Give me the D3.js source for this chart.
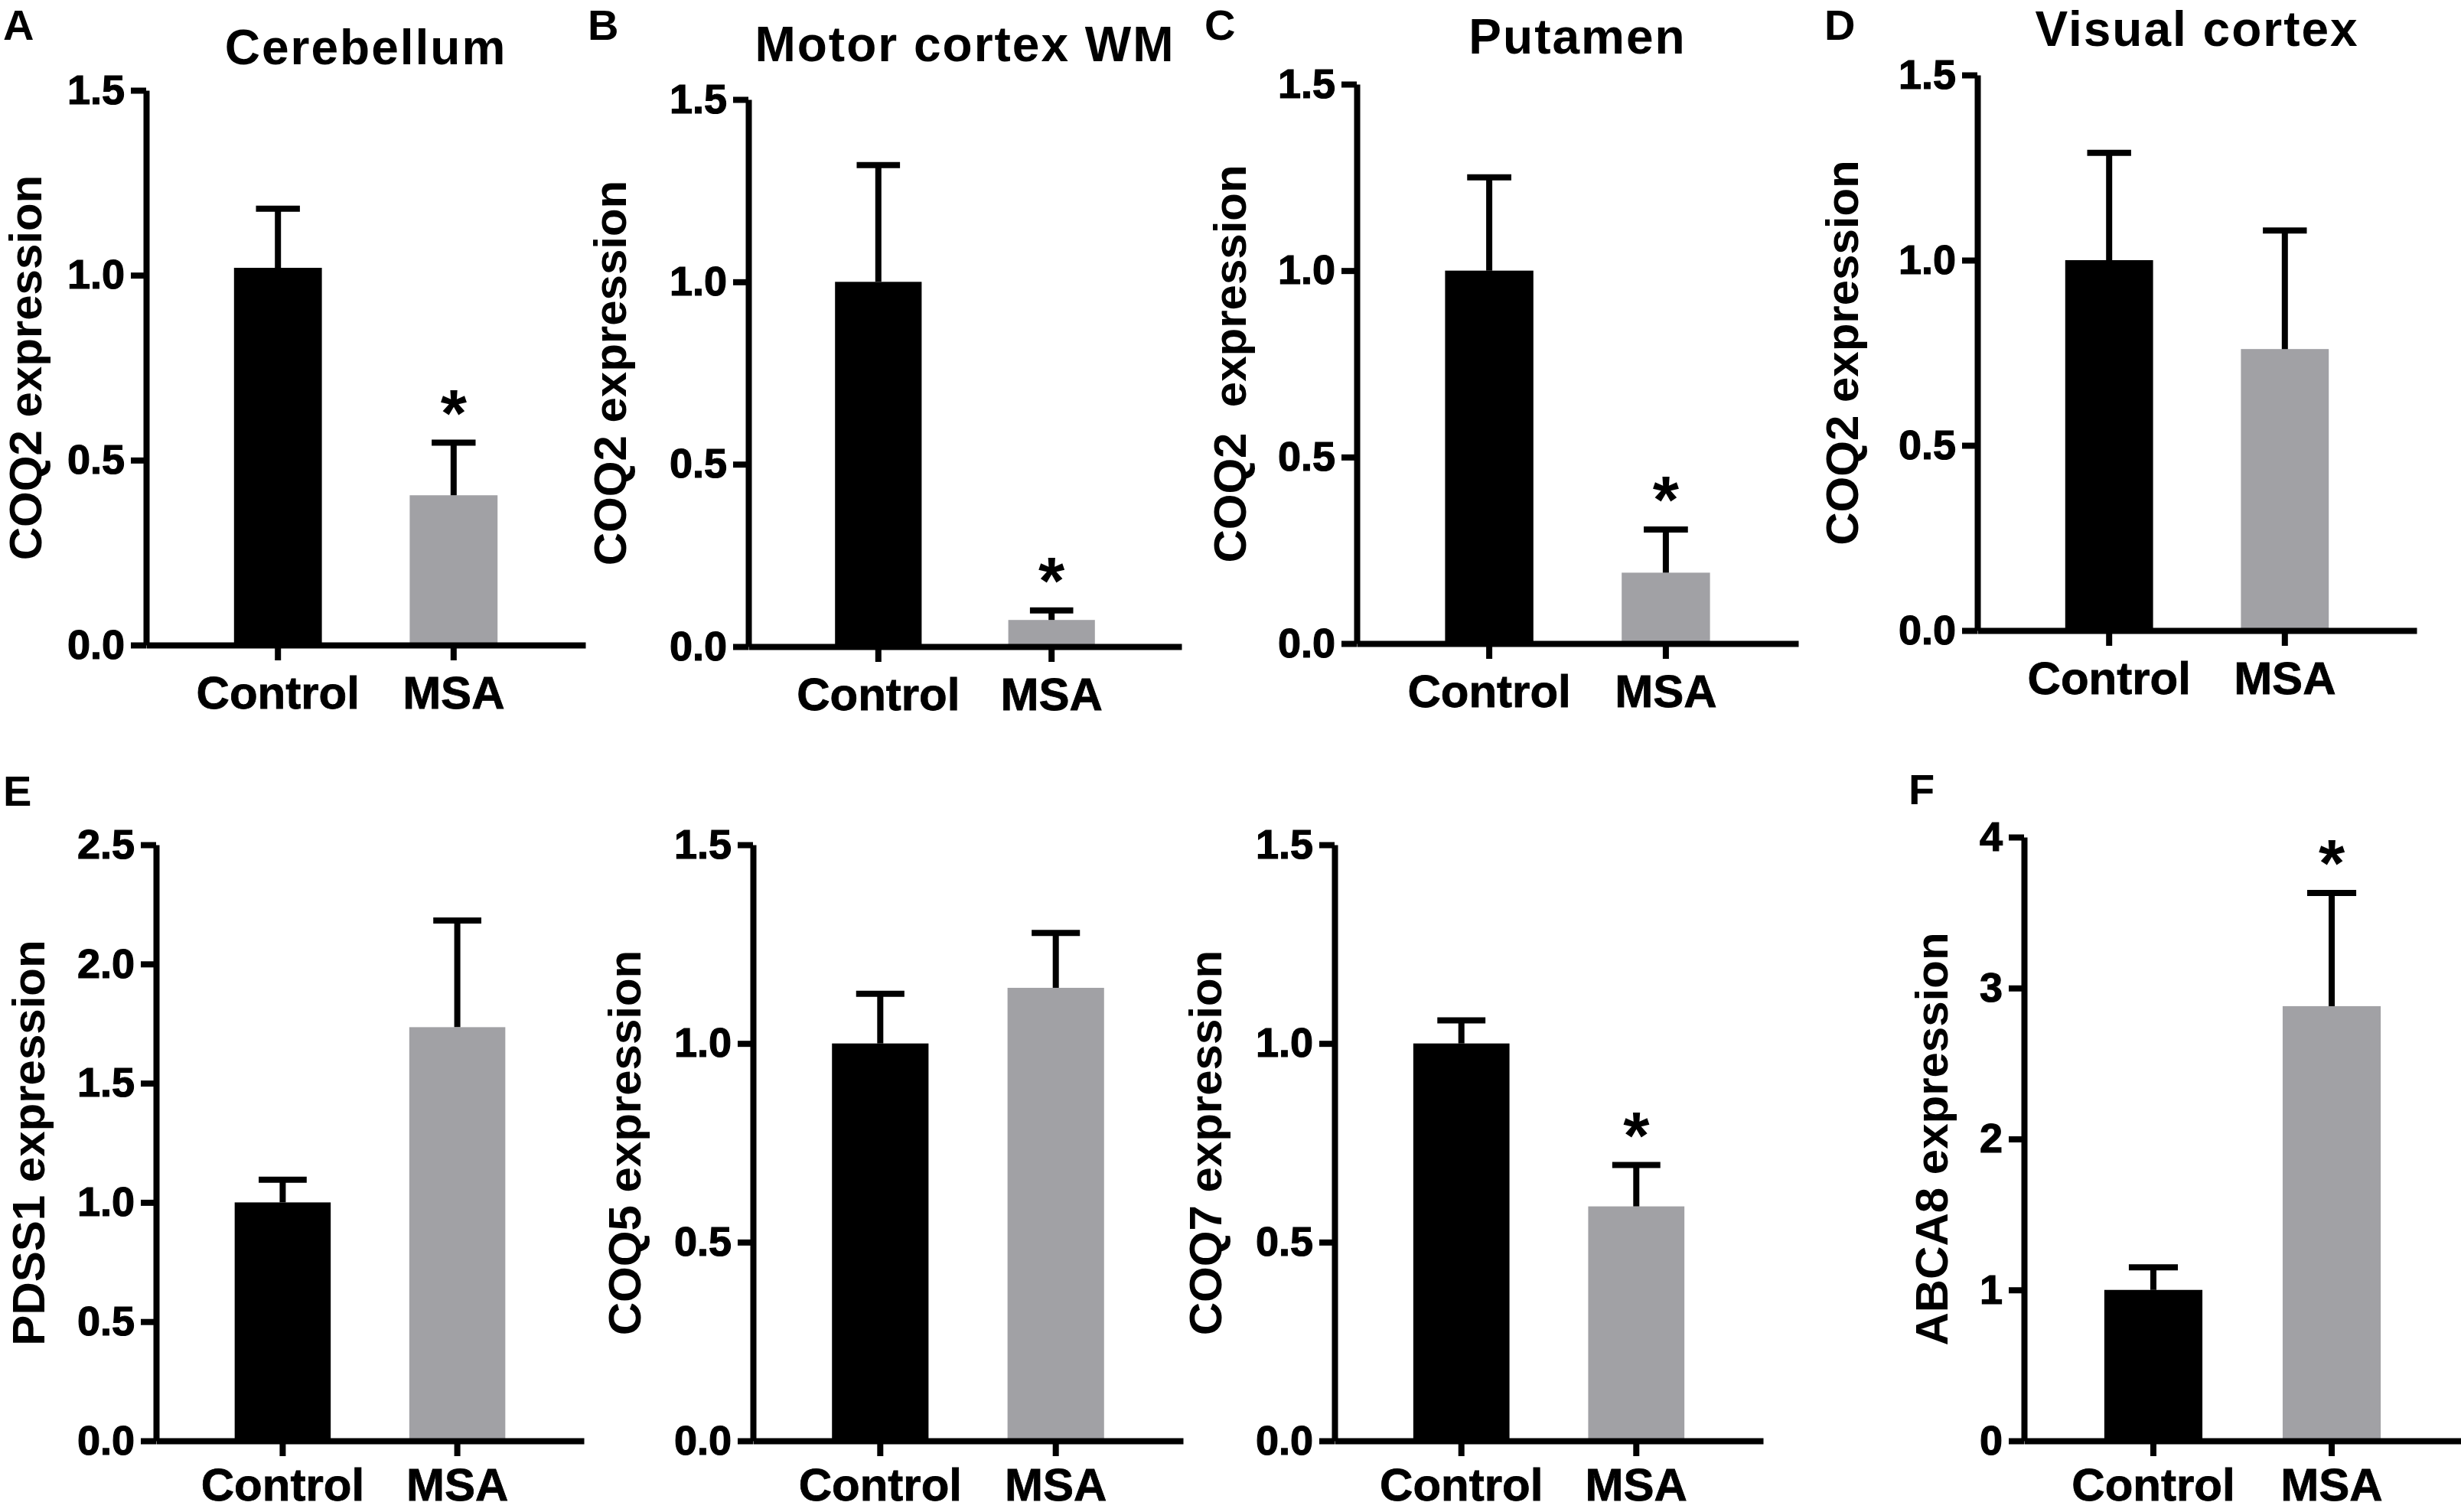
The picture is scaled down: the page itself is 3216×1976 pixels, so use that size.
<!DOCTYPE html>
<html>
<head>
<meta charset="utf-8">
<script src="https://cdn.jsdelivr.net/npm/d3@7"></script>
<style>
  body { margin: 0; background: #fff; }
  svg { display: block; }
  text { font-family: 'Liberation Sans', Arial, sans-serif; font-weight: bold; fill: #000; }
</style>
</head>
<body>
<div id="main"></div>
<script>
// groups on the x axis
const groups = ['Control', 'MSA'];

// one entry per panel, top row then bottom row
const panelLetters = ['A', 'B', 'C', 'D', 'E', '', '', 'F'];
const panelTitles = ['Cerebellum', 'Motor cortex WM', 'Putamen', 'Visual cortex', '', '', '', ''];
const yLabels = ['COQ2 expression', 'COQ2 expression', 'COQ2  expression', 'COQ2 expression',
                 'PDSS1 expression', 'COQ5 expression', 'COQ7 expression', 'ABCA8 expression'];
const yMax = [1.5, 1.5, 1.5, 1.5, 2.5, 1.5, 1.5, 4];
const yStep = [0.5, 0.5, 0.5, 0.5, 0.5, 0.5, 0.5, 1];

// mean and SEM
const controlMean = [1.02, 1.0, 1.0, 1.0, 1.0, 1.0, 1.0, 1.0];
const controlSem  = [0.16, 0.32, 0.25, 0.29, 0.095, 0.125, 0.058, 0.15];
const msaMean     = [0.405, 0.073, 0.19, 0.76, 1.735, 1.14, 0.59, 2.88];
const msaSem      = [0.142, 0.026, 0.116, 0.32, 0.447, 0.138, 0.104, 0.75];
const msaSignificant = [true, true, true, false, false, false, true, true];

// panel frames in page pixels
const layout = [
  {x0: 191,  x1: 765,  y0: 118,  y1: 843,  pad: 0.5,  labelX: 54,   titleY: 84, letterX: 4,    letterY: 52, xPad: 20},
  {x0: 978,  x1: 1544, y0: 130,  y1: 845,  pad: 0.5,  labelX: 818,  titleY: 80, letterX: 768,  letterY: 52, xPad: 20},
  {x0: 1773, x1: 2350, y0: 110,  y1: 841,  pad: 0.5,  labelX: 1628, titleY: 70, letterX: 1574, letterY: 52, xPad: 20},
  {x0: 2584, x1: 3158, y0: 98,   y1: 824,  pad: 0.5,  labelX: 2428, titleY: 60, letterX: 2384, letterY: 52, xPad: 20},
  {x0: 204,  x1: 763,  y0: 1104, y1: 1883, pad: 0.45, labelX: 58,   titleY: 0,  letterX: 4,    letterY: 1053, xPad: 15},
  {x0: 984,  x1: 1546, y0: 1104, y1: 1883, pad: 0.45, labelX: 837,  titleY: 0,  letterX: 0,    letterY: 0,    xPad: 15},
  {x0: 1744, x1: 2304, y0: 1104, y1: 1883, pad: 0.45, labelX: 1596, titleY: 0,  letterX: 0,    letterY: 0,    xPad: 15},
  {x0: 2645, x1: 3216, y0: 1094, y1: 1883, pad: 0.45, labelX: 2545, titleY: 0,  letterX: 2494, letterY: 1051, xPad: 15}
];

const barColors = ['#000000', '#a1a1a5'];
const lineW = 8;

const svg = d3.select('#main').append('svg')
  .attr('width', 3216)
  .attr('height', 1976);

layout.forEach((L, i) => {
  const g = svg.append('g').classed('panel', true);

  const y = d3.scaleLinear().domain([0, yMax[i]]).range([L.y1, L.y0]);
  const x = d3.scaleBand().domain(groups).range([L.x0, L.x1])
    .paddingInner(L.pad).paddingOuter(L.pad);
  const bw = x.bandwidth();

  const rows = [
    {group: groups[0], mean: controlMean[i], sem: controlSem[i], sig: false},
    {group: groups[1], mean: msaMean[i], sem: msaSem[i], sig: msaSignificant[i]}
  ];

  g.selectAll('rect.bar').data(rows).join('rect').classed('bar', true)
    .attr('x', d => x(d.group))
    .attr('y', d => y(d.mean))
    .attr('width', bw)
    .attr('height', d => y(0) - y(d.mean))
    .attr('fill', (d, j) => barColors[j]);

  // upper error bar only
  g.selectAll('line.err').data(rows).join('line').classed('err', true)
    .attr('x1', d => x(d.group) + bw / 2)
    .attr('x2', d => x(d.group) + bw / 2)
    .attr('y1', d => y(d.mean))
    .attr('y2', d => y(d.mean + d.sem))
    .style('stroke', '#000').style('stroke-width', lineW);

  g.selectAll('line.cap').data(rows).join('line').classed('cap', true)
    .attr('x1', d => x(d.group) + bw / 4)
    .attr('x2', d => x(d.group) + bw * 3 / 4)
    .attr('y1', d => y(d.mean + d.sem))
    .attr('y2', d => y(d.mean + d.sem))
    .style('stroke', '#000').style('stroke-width', lineW);

  const starSize = 88;
  g.selectAll('text.star').data(rows.filter(d => d.sig)).join('text').classed('star', true)
    .text('*')
    .attr('x', d => x(d.group) + bw / 2)
    .attr('y', d => y(d.mean + d.sem) - 60 + starSize * 0.58)
    .style('text-anchor', 'middle')
    .style('font-size', starSize + 'px');

  // axes
  const fmt = yStep[i] >= 1 ? d3.format('d') : d3.format('.1f');
  const ticks = d3.range(0, yMax[i] + 1e-9, yStep[i]);

  const yAxis = g.append('g')
    .attr('transform', `translate(${L.x0},0)`)
    .call(d3.axisLeft(y).tickValues(ticks).tickFormat(fmt)
      .tickSize(20).tickSizeOuter(0).tickPadding(8))
    .attr('font-size', null).attr('font-family', null);

  const xAxis = g.append('g')
    .attr('transform', `translate(0,${L.y1})`)
    .call(d3.axisBottom(x).tickSize(20).tickSizeOuter(0).tickPadding(L.xPad))
    .attr('font-size', null).attr('font-family', null);

  [yAxis, xAxis].forEach(a => {
    a.select('.domain').style('stroke', '#000').style('stroke-width', lineW);
    a.selectAll('.tick line').style('stroke', '#000').style('stroke-width', lineW);
  });

  yAxis.selectAll('.tick text')
    .style('font-size', '54px')
    .style('stroke', '#000').style('stroke-width', '1.2px');

  xAxis.selectAll('.tick text')
    .style('font-size', '60px')
    .style('stroke', '#000').style('stroke-width', '0.8px');

  // y label, rotated, baseline on the right
  g.append('text').classed('y-label', true)
    .text(yLabels[i])
    .attr('transform', `translate(${L.labelX},${(L.y0 + L.y1) / 2}) rotate(-90)`)
    .style('text-anchor', 'middle')
    .style('font-size', '60px')
    .style('white-space', 'pre');

  if (panelTitles[i]) {
    g.append('text').classed('title', true)
      .text(panelTitles[i])
      .attr('x', (L.x0 + L.x1) / 2)
      .attr('y', L.titleY)
      .style('text-anchor', 'middle')
      .style('font-size', '64px')
      .style('letter-spacing', '2px');
  }

  if (panelLetters[i]) {
    g.append('text').classed('letter', true)
      .text(panelLetters[i])
      .attr('x', L.letterX)
      .attr('y', L.letterY)
      .style('font-size', '56px');
  }
});
</script>
</body>
</html>
